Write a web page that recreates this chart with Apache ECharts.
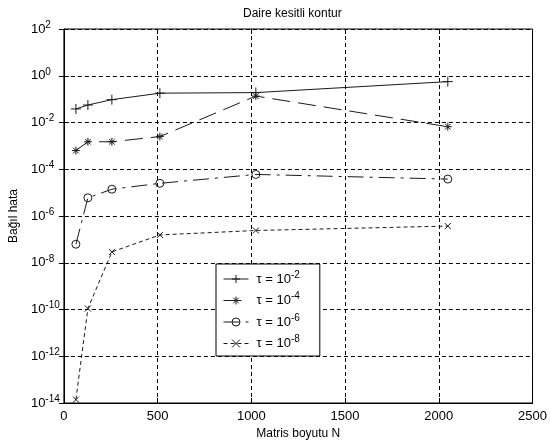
<!DOCTYPE html>
<html><head><meta charset="utf-8">
<script src="https://cdn.jsdelivr.net/npm/echarts@6/dist/echarts.min.js"></script>
<style>html,body{margin:0;padding:0;background:#fff}#c{width:550px;height:447px}</style>
</head><body><div id="c"></div>
<script>
const xValues = [64, 128, 256, 512, 1024, 2048];
const tau2 = [0.038, 0.056, 0.095, 0.18, 0.19, 0.56];
const tau4 = [6.3e-4, 1.5e-3, 1.5e-3, 2.5e-3, 0.135, 6.6e-3];
const tau6 = [6.2e-8, 6e-6, 1.4e-5, 2.5e-5, 6e-5, 3.8e-5];
const tau8 = [1.4e-14, 1.1e-10, 2.9e-8, 1.55e-7, 2.4e-7, 3.7e-7];
const tauExps = ['-2', '-4', '-6', '-8'];
const titleText = 'Daire kesitli kontur';
const xName = 'Matris boyutu N';
const yName = 'Bağıl hata';

const FONT = 'Liberation Sans, Arial, sans-serif';
const LC = '#1a1a1a';
const sym = {
  plus: 'path://M0,5L10,5M5,0L5,10',
  star: 'path://M0,5L10,5M5,0L5,10M1.5,1.5L8.5,8.5M1.5,8.5L8.5,1.5',
  circle: 'path://M0,5A5,5 0 1,1 10,5A5,5 0 1,1 0,5Z',
  cross: 'path://M0,0L10,10M0,10L10,0'
};
function pairs(ys){ return xValues.map((x,i)=>[x, ys[i]]); }
const names = tauExps.map(e => 'τ = 10^' + e);
const seriesDefs = [
  {data: tau2, symbol: sym.plus, size: 10, dash: 'solid'},
  {data: tau4, symbol: sym.star, size: 8, dash: [18, 8]},
  {data: tau6, symbol: sym.circle, size: 8, dash: [16, 6, 3, 6]},
  {data: tau8, symbol: sym.cross, size: 6, dash: [4, 3]}
];
const chart = echarts.init(document.getElementById('c'), null, {renderer: 'canvas'});
const axRich = {
  b: {fontSize: 13, fontFamily: FONT, color: '#000'},
  s: {fontSize: 10, fontFamily: FONT, color: '#000', padding: [0, 0, 8, 0]}
};
const lgRich = {
  b: {fontSize: 13, fontFamily: FONT, color: '#000'},
  s: {fontSize: 10, fontFamily: FONT, color: '#000', padding: [0, 0, 8, 0]}
};
chart.setOption({
  animation: false,
  backgroundColor: '#fff',
  textStyle: {fontFamily: FONT},
  title: {text: titleText, left: 238, top: 3,
    textStyle: {fontSize: 12, fontWeight: 'normal', color: '#000', fontFamily: FONT}},
  grid: {left: 62, right: 13, top: 29, bottom: 44, show: true, borderColor: '#000', borderWidth: 1, backgroundColor: '#fff'},
  legend: {
    orient: 'vertical', left: 216, top: 264,
    backgroundColor: '#fff', borderColor: '#000', borderWidth: 1,
    padding: [6, 20, 6, 7], itemGap: 6, itemWidth: 25, itemHeight: 10,
    data: names,
    itemStyle: {borderWidth: 1},
    lineStyle: {width: 1},
    formatter: function(n){ const i = names.indexOf(n); return '{b|τ = 10}{s|' + tauExps[i] + '}'; },
    textStyle: {rich: lgRich, padding: [0,0,0,3]}
  },
  xAxis: [{
    type: 'value', min: 0, max: 2500, interval: 500,
    name: xName, nameLocation: 'middle', nameGap: 23,
    nameTextStyle: {fontSize: 12, color: '#000', fontFamily: FONT},
    axisLine: {lineStyle: {color: '#000'}},
    axisTick: {inside: true, length: 5, lineStyle: {color: '#000'}},
    axisLabel: {margin: 7, fontSize: 13, color: '#000', fontFamily: FONT, formatter: v => String(v)},
    splitLine: {show: true, lineStyle: {color: '#000', type: [4, 3], width: 1}}
  }, {
    type: 'value', min: 0, max: 2500, interval: 500, position: 'top',
    axisLine: {show: false}, axisLabel: {show: false}, splitLine: {show: false},
    axisTick: {inside: true, length: 5, lineStyle: {color: '#000'}}
  }],
  yAxis: [{
    type: 'log', logBase: 10, min: 1e-14, max: 1e2, interval: 2,
    name: yName, nameLocation: 'middle', nameGap: 36, nameRotate: 90,
    nameTextStyle: {fontSize: 12, color: '#000', fontFamily: FONT},
    axisLine: {lineStyle: {color: '#000'}},
    axisTick: {inside: true, length: 5, lineStyle: {color: '#000'}},
    axisLabel: {
      margin: 33, align: 'left',
      formatter: function(v){ const e = Math.round(Math.log10(v)); return '{b|10}{s|' + e + '}'; },
      rich: axRich
    },
    splitLine: {show: true, lineStyle: {color: '#000', type: [4, 3], width: 1}}
  }, {
    type: 'log', logBase: 10, min: 1e-14, max: 1e2, interval: 2, position: 'right',
    axisLine: {show: false}, axisLabel: {show: false}, splitLine: {show: false},
    axisTick: {inside: true, length: 5, lineStyle: {color: '#000'}}
  }],
  series: seriesDefs.map((d, i) => ({
    name: names[i], type: 'line', data: pairs(d.data),
    symbol: d.symbol, symbolSize: d.size, showAllSymbol: true,
    lineStyle: {color: LC, width: 1, type: d.dash},
    itemStyle: {color: 'rgba(0,0,0,0)', borderColor: LC, borderWidth: 1},
    emphasis: {disabled: true}
  }))
});
</script></body></html>
